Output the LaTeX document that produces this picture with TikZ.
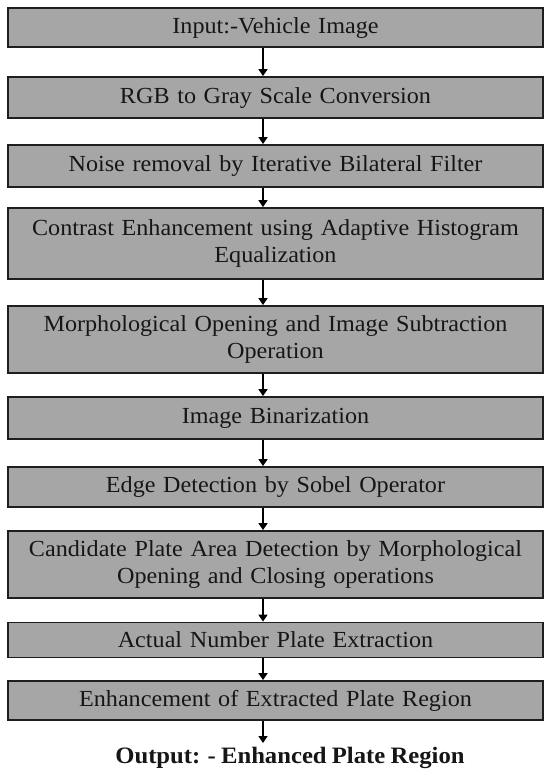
\documentclass[tikz,border=0pt]{standalone}
\usepackage{fontspec}
\setmainfont{Liberation Serif}[FakeStretch=1.05, WordSpace=0.85]
\usetikzlibrary{arrows.meta}
\definecolor{boxfill}{HTML}{A6A6A6}
\definecolor{boxline}{HTML}{1E1E1E}
\definecolor{inktext}{HTML}{161616}
\tikzset{
  stage/.style={draw=boxline, line width=1.8pt, fill=boxfill, inner sep=0pt,
    minimum width=535pt, text width=530pt, align=center, text=inktext,
    font=\fontsize{23}{27}\selectfont},
  flow/.style={draw=black, line width=1.6pt,
    -{Triangle[width=9pt,length=7pt]}, shorten >=0pt},
}
\begin{document}
\begin{tikzpicture}[x=1pt,y=1pt]
  \useasboundingbox (0,0) rectangle (547,-769);
  \fill[white] (0,0) rectangle (547,-769);

  % processing stages, top to bottom
  \node[stage, minimum height=39pt] (s1)  at (275.5,-27.5)  {Input:-Vehicle Image};
  \node[stage, minimum height=41pt] (s2)  at (275.5,-97.5)  {RGB to Gray Scale Conversion};
  \node[stage, minimum height=42pt] (s3)  at (275.5,-166)   {Noise removal by Iterative Bilateral Filter};
  \node[stage, minimum height=71pt] (s4)  at (275.5,-243.5) {Contrast Enhancement using Adaptive Histogram\\Equalization};
  \node[stage, minimum height=67pt] (s5)  at (275.5,-339.5) {Morphological Opening and Image Subtraction\\Operation};
  \node[stage, minimum height=42pt] (s6)  at (275.5,-418)   {Image Binarization};
  \node[stage, minimum height=40pt] (s7)  at (275.5,-487)   {Edge Detection by Sobel Operator};
  \node[stage, minimum height=67pt] (s8)  at (275.5,-564.5) {Candidate Plate Area Detection by Morphological\\Opening and Closing operations};
  \node[stage, minimum height=35pt] (s9)  at (275.5,-640)   {Actual Number Plate Extraction};
  \node[stage, minimum height=39pt] (s10) at (275.5,-700.5) {Enhancement of Extracted Plate Region};

  % final result label
  \node[anchor=base, inner sep=0pt, text=inktext,
        font=\fontsize{23.5}{27}\selectfont\bfseries] (out) at (290,-763)
        {Output: - Enhanced Plate Region};
  \coordinate (tip) at (263,-743);

  % connectors
  \foreach \a/\b in {s1/s2,s2/s3,s3/s4,s4/s5,s5/s6,s6/s7,s7/s8,s8/s9,s9/s10}
    \draw[flow] ([xshift=-12.5pt]\a.south) -- ([xshift=-12.5pt]\b.north);
  \draw[flow] ([xshift=-12.5pt]s10.south) -- (tip);
\end{tikzpicture}
\end{document}
